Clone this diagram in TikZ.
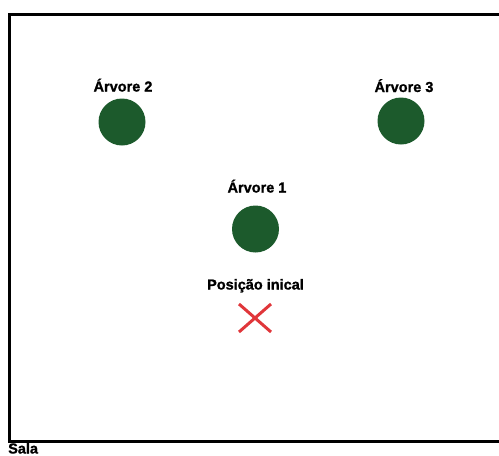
\documentclass[tikz,border=0pt]{standalone}
\usepackage{fontspec}
\setmainfont{Liberation Sans}[BoldFeatures={FakeBold=1.2}]
\definecolor{treegreen}{HTML}{1C5A2C}
\definecolor{xred}{HTML}{E0363A}
\begin{document}
\begin{tikzpicture}[x=1pt,y=-1pt,
  tree/.style={circle,fill=treegreen,minimum size=47pt,inner sep=0pt},
  lbl/.style={font=\bfseries\fontsize{14.5}{15}\selectfont,inner sep=0pt,anchor=base}]
\useasboundingbox (0,0) rectangle (499,456);
\begin{scope}
\clip (0,0) rectangle (499,456);
\draw[line width=3pt] (9.5,14) rectangle (520,441);
\end{scope}
\node[tree] (t2) at (122,122) {};
\node[tree] (t3) at (401,121) {};
\node[tree] (t1) at (255.5,229) {};
\node[lbl] (l2) at (123,91.5) {Árvore 2};
\node[lbl] (l3) at (404,92) {Árvore 3};
\node[lbl] (l1) at (257,192.5) {Árvore 1};
\node[lbl] (lp) at (255.5,289.5) {Posição inical};
\coordinate (xc) at (255,318);
\draw[xred,line width=3pt] ([shift={(-16,-14)}]xc) -- ([shift={(16,14)}]xc);
\draw[xred,line width=3pt] ([shift={(16,-14)}]xc) -- ([shift={(-16,14)}]xc);
\node[lbl,anchor=base west] (sala) at (8,453.5) {Sala};
\end{tikzpicture}
\end{document}
